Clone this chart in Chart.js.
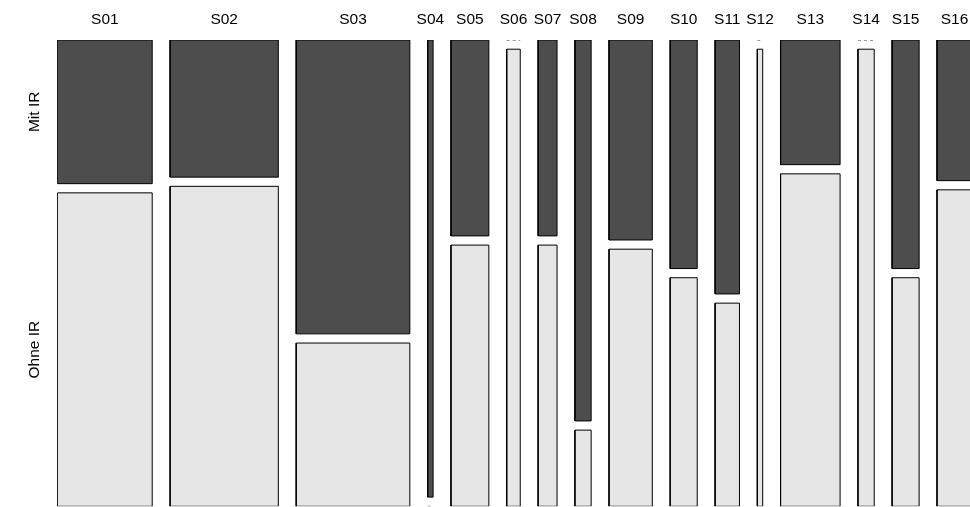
<!DOCTYPE html>
<html>
<head>
<meta charset="utf-8">
<script src="https://cdn.jsdelivr.net/npm/chart.js@4/dist/chart.umd.min.js"></script>
<style>
  html, body { margin: 0; padding: 0; background: #fff; }
  #wrap { width: 970px; height: 507px; position: relative; }
</style>
</head>
<body>
<div id="wrap"><canvas id="c" width="970" height="507"></canvas></div>
<script>
// Counts per study: with IR (upper tiles) and without IR (lower tiles)
const categories = ['S01','S02','S03','S04','S05','S06','S07','S08','S09','S10','S11','S12','S13','S14','S15','S16'];
const mitIR  = [11, 12, 27, 2, 6, 0, 3, 5, 7, 5, 5, 0,  6, 0, 5, 4];
const ohneIR = [24, 28, 15, 0, 8, 5, 4, 1, 9, 5, 4, 2, 16, 6, 5, 9];
const rowLabels = ['Ohne IR', 'Mit IR'];

// Mosaic spacing (x in count units, y in share units) and visible x range
const GAP_X = 6.6;
const GAP_Y = 0.0201;
const X_MAX = 337.2;
const DARK = '#4D4D4D';
const LIGHT = '#E6E6E6';
const FONT = { family: '"Liberation Sans", Arial, Helvetica, sans-serif', size: 15.5 };

// Column extents: width proportional to the study total
const cols = [];
let cursor = 0;
categories.forEach((name, i) => {
  const n = mitIR[i] + ohneIR[i];
  cols.push({ name, x0: cursor, x1: cursor + n, n, mit: mitIR[i], ohne: ohneIR[i] });
  cursor += n + GAP_X;
});

const TOP = 1 + GAP_Y;
const datasets = [];

function tile(x0, x1, y0, y1, color) {
  datasets.push({
    data: [{x: x0, y: y0}, {x: x1, y: y0}, {x: x1, y: y1}, {x: x0, y: y1}, {x: x0, y: y0}],
    backgroundColor: color,
    borderColor: '#000',
    borderWidth: 1,
    borderJoinStyle: 'miter',
    fill: 'shape',
    tension: 0,
    pointRadius: 0,
    pointHoverRadius: 0
  });
}

// Empty cells are shown as a dashed line
function emptyCell(x0, x1, y) {
  datasets.push({
    data: [{x: x0, y: y}, {x: x1, y: y}],
    borderColor: '#333',
    borderWidth: 1,
    borderDash: [3, 3],
    fill: false,
    pointRadius: 0,
    pointHoverRadius: 0
  });
}

cols.forEach(c => {
  const split = c.ohne / c.n;
  if (c.ohne > 0) tile(c.x0, c.x1, 0, split, LIGHT); else emptyCell(c.x0, c.x1, 0);
  if (c.mit > 0) tile(c.x0, c.x1, split + GAP_Y, TOP, DARK); else emptyCell(c.x0, c.x1, TOP);
});

// Row labels sit at the middle of the first column's tiles
const firstSplit = cols[0].ohne / cols[0].n;
const rowTicks = [firstSplit / 2, (firstSplit + GAP_Y + TOP) / 2];

new Chart(document.getElementById('c'), {
  type: 'line',
  data: { datasets },
  options: {
    responsive: false,
    devicePixelRatio: 1,
    animation: false,
    events: [],
    layout: { padding: { top: 0, left: 0, right: 0, bottom: 0.7 } },
    plugins: { legend: { display: false }, tooltip: { enabled: false } },
    scales: {
      x: {
        type: 'linear',
        position: 'top',
        min: 0,
        max: X_MAX,
        grid: { display: false, drawTicks: false },
        border: { display: false },
        ticks: {
          autoSkip: false, minRotation: 0, maxRotation: 0, padding: 11,
          color: '#000', font: FONT,
          callback: (v, i) => categories[i]
        },
        afterBuildTicks: s => { s.ticks = cols.map(c => ({ value: (c.x0 + c.x1) / 2 })); },
        afterFit: s => { s.height = 40; s.paddingLeft = 0; s.paddingRight = 0; }
      },
      y: {
        type: 'linear',
        position: 'left',
        min: 0,
        max: TOP,
        grid: { display: false, drawTicks: false },
        border: { display: false },
        ticks: {
          crossAlign: 'center', minRotation: 90, maxRotation: 90, padding: -6,
          color: '#000', font: FONT,
          callback: (v, i) => rowLabels[i]
        },
        afterBuildTicks: s => { s.ticks = rowTicks.map(v => ({ value: v })); },
        afterFit: s => { s.width = 57.5; s.paddingTop = 0; s.paddingBottom = 0; }
      }
    }
  }
});
</script>
</body>
</html>
